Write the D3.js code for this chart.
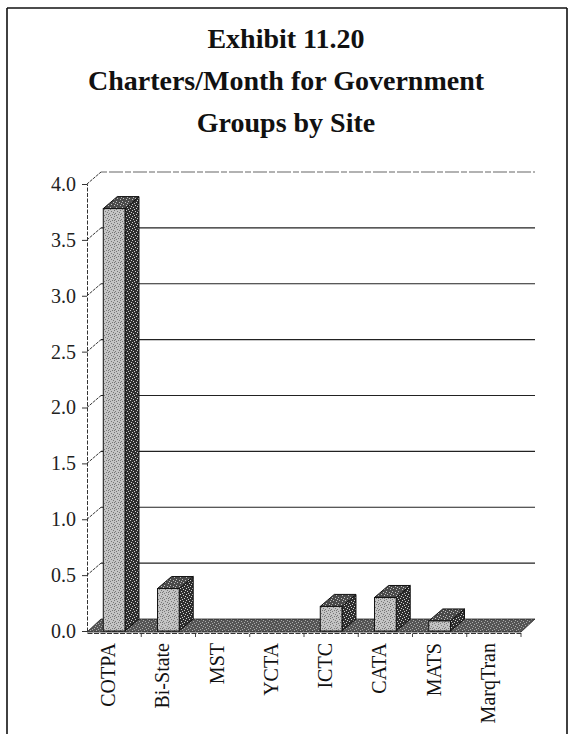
<!DOCTYPE html>
<html>
<head>
<meta charset="utf-8">
<script src="https://cdn.jsdelivr.net/npm/d3@7"></script>
<style>
  html, body { margin: 0; padding: 0; background: #fff; }
  svg { display: block; }
</style>
</head>
<body>
<svg id="chart" width="570" height="734"></svg>
<script>
// Charters per month for government groups, by site
const sites = ["COTPA", "Bi-State", "MST", "YCTA", "ICTC", "CATA", "MATS", "MarqTran"];
const chartersPerMonth = [3.78, 0.38, 0, 0, 0.22, 0.30, 0.09, 0];
const yTicks = [0, 0.5, 1.0, 1.5, 2.0, 2.5, 3.0, 3.5, 4.0];
const titleLines = ["Exhibit 11.20", "Charters/Month for Government", "Groups by Site"];

const svg = d3.select("#chart");
const serif = "'Liberation Serif', 'Times New Roman', Times, serif";

// 3-D depth offset of the back wall
const DX = 14, DY = -12;

const x = d3.scaleBand().domain(sites).range([87, 521]).paddingInner(0).paddingOuter(0);
const y = d3.scaleLinear().domain([0, 4]).range([631, 184]);

// textures for the shaded faces
const defs = svg.append("defs");
function dither(id, base, dots, dotColor, size) {
  const p = defs.append("pattern").attr("id", id).attr("patternUnits", "userSpaceOnUse")
    .attr("width", size).attr("height", size);
  p.append("rect").attr("width", size).attr("height", size).attr("fill", base);
  dots.forEach(([dx, dy]) => p.append("rect").attr("x", dx).attr("y", dy)
    .attr("width", 1).attr("height", 1).attr("fill", dotColor));
}
dither("frontTex", "#c4c4c4", [[0,0],[3,1],[1,3],[4,4],[2,5],[5,2],[0,4]], "#777", 6);
dither("sideTex", "#2e2e2e", [[0,0],[3,1],[1,3],[4,4],[2,5],[5,2]], "#d0d0d0", 6);
dither("topTex", "#4a4a4a", [[0,1],[3,0],[2,3],[5,4],[1,5]], "#c0c0c0", 6);
dither("floorTex", "#555", [[0,0],[3,1],[1,3],[4,4],[2,5],[5,2]], "#aaa", 6);

// page frame
const frame = svg.append("g").attr("stroke", "#111").attr("stroke-width", 1.6).attr("fill", "none");
frame.append("line").attr("x1", 7).attr("y1", 8).attr("x2", 7).attr("y2", 734);
frame.append("line").attr("x1", 7).attr("y1", 8).attr("x2", 567).attr("y2", 8);
frame.append("line").attr("x1", 567).attr("y1", 8).attr("x2", 567).attr("y2", 734);

// title
svg.append("g").selectAll("text").data(titleLines).join("text")
  .attr("x", 286).attr("y", (d, i) => 48 + i * 42)
  .attr("text-anchor", "middle")
  .attr("font-family", serif).attr("font-weight", "bold").attr("font-size", 28)
  .attr("fill", "#111").text(d => d);

const xLeft = x.range()[0], xRight = x.range()[1];

// back-wall gridlines
const grid = svg.append("g");
grid.selectAll("line.grid").data(yTicks.filter(t => t > 0)).join("line")
  .attr("class", "grid")
  .attr("x1", xLeft + DX).attr("x2", xRight + DX)
  .attr("y1", d => y(d) + DY).attr("y2", d => y(d) + DY)
  .attr("stroke", d => d === 4 ? "#666" : "#222")
  .attr("stroke-width", d => d === 4 ? 1.2 : 1.2)
  .attr("stroke-dasharray", d => d === 4 ? "6,2,14,2" : null);

// side-wall diagonals from the front axis to the back wall
grid.selectAll("line.diag").data(yTicks.filter(t => t > 0)).join("line")
  .attr("class", "diag")
  .attr("x1", xLeft).attr("y1", d => y(d))
  .attr("x2", xLeft + DX).attr("y2", d => y(d) + DY)
  .attr("stroke", "#333").attr("stroke-width", 1).attr("stroke-dasharray", "3,1");

// floor slab
const y0 = y(0);
svg.append("polygon")
  .attr("points", [[xLeft, y0 + 1], [xLeft + DX, y0 + DY], [xRight + DX, y0 + DY], [xRight, y0 + 1]].join(" "))
  .attr("fill", "url(#floorTex)").attr("stroke", "#222").attr("stroke-width", 0.8);

// bars: front, side and top faces
const bw = x.bandwidth();
const bars = svg.append("g").selectAll("g").data(sites.map((s, i) => ({ s, v: chartersPerMonth[i] })).filter(d => d.v > 0)).join("g");
bars.each(function(d) {
  const g = d3.select(this);
  const x0 = x(d.s) + bw * 0.3, w = bw * 0.4, yv = y(d.v);
  g.append("polygon")
    .attr("points", [[x0 + w, yv], [x0 + w + DX, yv + DY], [x0 + w + DX, y0 + DY], [x0 + w, y0]].join(" "))
    .attr("fill", "url(#sideTex)").attr("stroke", "#111").attr("stroke-width", 1);
  g.append("polygon")
    .attr("points", [[x0, yv], [x0 + DX, yv + DY], [x0 + w + DX, yv + DY], [x0 + w, yv]].join(" "))
    .attr("fill", "url(#topTex)").attr("stroke", "#111").attr("stroke-width", 1);
  g.append("rect")
    .attr("x", x0).attr("y", yv).attr("width", w).attr("height", y0 - yv)
    .attr("fill", "url(#frontTex)").attr("stroke", "#111").attr("stroke-width", 1);
});

// value axis
const yAxis = svg.append("g").attr("transform", `translate(${xLeft},0)`)
  .call(d3.axisLeft(y).tickValues(yTicks).tickFormat(d3.format(".1f")).tickSize(5).tickPadding(6));
yAxis.select(".domain").attr("stroke", "#333").attr("stroke-dasharray", "4,1.5");
yAxis.selectAll(".tick line").attr("stroke", "#333");
yAxis.selectAll("text").attr("font-family", serif).attr("font-size", 20).attr("fill", "#222");

// category axis
const xAxis = svg.append("g").attr("transform", `translate(0,${y0 + 2})`)
  .call(d3.axisBottom(x).tickSize(0).tickFormat(""));
xAxis.select(".domain").attr("stroke", "#333").attr("stroke-dasharray", "5,1.5");
svg.append("g").selectAll("line").data(sites.slice(1).concat(["__end"])).join("line")
  .attr("x1", (d, i) => xLeft + (i + 1) * bw).attr("x2", (d, i) => xLeft + (i + 1) * bw)
  .attr("y1", y0 + 3).attr("y2", y0 + 6).attr("stroke", "#444").attr("stroke-width", 1);

svg.append("g").selectAll("text").data(sites).join("text")
  .attr("transform", d => `translate(${x(d) + bw / 2 + 1},${y0 + 12}) rotate(-90)`)
  .attr("text-anchor", "end")
  .attr("font-family", serif).attr("font-size", 20).attr("fill", "#111")
  .text(d => d);
</script>
</body>
</html>
